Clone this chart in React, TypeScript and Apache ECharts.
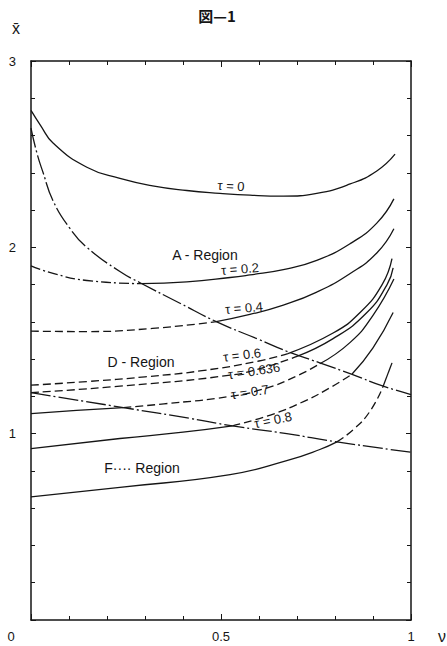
import React, { useEffect, useRef } from 'react';
import * as echarts from 'echarts';

// ν (x) , x̄ (y) readings
const tau0 = [[0, 2.735], [0.025, 2.655], [0.058, 2.56], [0.147, 2.43], [0.234, 2.37], [0.32, 2.33], [0.41, 2.305], [0.497, 2.29], [0.576, 2.28], [0.664, 2.275], [0.752, 2.29], [0.84, 2.34], [0.91, 2.41], [0.958, 2.50]];
const tau02 = [[0, 1.90], [0.058, 1.86], [0.147, 1.822], [0.29, 1.805], [0.41, 1.815], [0.524, 1.838], [0.576, 1.852], [0.664, 1.88], [0.752, 1.93], [0.84, 2.02], [0.91, 2.13], [0.955, 2.26]];
const tau04 = [[0, 1.55], [0.147, 1.548], [0.32, 1.565], [0.484, 1.60], [0.576, 1.64], [0.664, 1.69], [0.752, 1.76], [0.84, 1.86], [0.91, 1.97], [0.955, 2.10]];
const tau06 = [[0, 1.26], [0.15, 1.28], [0.3, 1.305], [0.45, 1.338], [0.6, 1.39], [0.676, 1.43], [0.795, 1.54], [0.866, 1.65], [0.924, 1.80], [0.95, 1.94]];
const tau0636 = [[0, 1.22], [0.234, 1.255], [0.524, 1.314], [0.62, 1.36], [0.70, 1.415], [0.795, 1.51], [0.884, 1.65], [0.937, 1.80], [0.953, 1.89]];
const tau07 = [[0, 1.108], [0.12, 1.125], [0.243, 1.14], [0.35, 1.16], [0.524, 1.20], [0.62, 1.245], [0.70, 1.31], [0.76, 1.375], [0.84, 1.49], [0.9, 1.635], [0.955, 1.83]];
const tau08 = [[0, 0.92], [0.234, 0.974], [0.40, 1.008], [0.53, 1.042], [0.63, 1.10], [0.72, 1.175], [0.79, 1.25], [0.845, 1.32], [0.9, 1.46], [0.953, 1.65]];
const tauLow = [[0, 0.661], [0.234, 0.712], [0.524, 0.78], [0.673, 0.855], [0.76, 0.915], [0.805, 0.956], [0.85, 1.025], [0.892, 1.12], [0.926, 1.25], [0.95, 1.38]];
const boundaryAD = [[0, 2.64], [0.015, 2.51], [0.032, 2.40], [0.058, 2.25], [0.103, 2.10], [0.147, 2.00], [0.234, 1.87], [0.287, 1.81], [0.392, 1.70], [0.489, 1.60], [0.60, 1.505], [0.676, 1.44], [0.76, 1.38], [0.845, 1.318], [0.927, 1.255], [1.0, 1.21]];
const boundaryDF = [[0, 1.22], [0.243, 1.14], [0.418, 1.082], [0.53, 1.042], [0.673, 1.0], [0.805, 0.956], [1.0, 0.90]];

// ν values where the line style of a curve changes (region crossings)
const breaks02 = [0.29];
const breaks04 = [0.484];
const breaks06 = [0.676];
const breaks0636 = [0.70];
const breaks07 = [0.243, 0.76];
const breaks08 = [0.53, 0.845];
const breaksLow = [0.805, 0.926];

const xLabelValues = [0.5, 1];
const yLabelValues = [1, 2, 3];

const INK = '#151515';
const FONT = '"Liberation Sans", Arial, sans-serif';
const DASH = [8, 4];
const DASHDOT = [20, 3, 2, 3];
const DASHDOT_SHORT = [10, 3, 2, 3];

function split(points: number[][], brk: number[]) {
  const segs: number[][][] = [];
  let cur: number[][] = [];
  for (const p of points) {
    cur.push(p);
    if (brk.includes(p[0])) {
      segs.push(cur);
      cur = [p];
    }
  }
  segs.push(cur);
  return segs;
}

function curve(name: string, points: number[][], brk: number[], styles: any[]) {
  return split(points, brk).map((seg, i) => ({
    name,
    type: 'line',
    data: seg,
    showSymbol: false,
    smooth: 0.5,
    silent: true,
    lineStyle: { color: INK, width: 1.3, type: styles[i] },
    z: 3,
  }));
}

function label(text: string, x: number, y: number, rot: number, size = 13) {
  return {
    type: 'text',
    x,
    y,
    rotation: rot,
    style: {
      text,
      fill: INK,
      font: `${size}px ${FONT}`,
      fontSize: size,
      fontFamily: FONT,
      align: 'center',
      textAlign: 'center',
      verticalAlign: 'middle',
      textVerticalAlign: 'middle',
    },
  };
}

const App = () => {
  const ref = useRef<HTMLDivElement>(null);
  useEffect(() => {
    const chart = echarts.init(ref.current!, null, { renderer: 'svg' });
    const xCommon = {
      type: 'value',
      min: 0,
      max: 1,
      interval: 0.5,
      axisLine: { show: true, onZero: false, lineStyle: { color: INK, width: 1.5 } },
      axisTick: { show: true, inside: true, length: 6, lineStyle: { color: INK, width: 1 } },
      minorTick: { show: true, splitNumber: 5, length: 4, lineStyle: { color: INK, width: 1 } },
      splitLine: { show: false },
      minorSplitLine: { show: false },
    };
    const yCommon = {
      type: 'value',
      min: 0,
      max: 3,
      interval: 1,
      axisLine: { show: true, onZero: false, lineStyle: { color: INK, width: 1.5 } },
      axisTick: { show: true, inside: true, length: 5, lineStyle: { color: INK, width: 1 } },
      minorTick: { show: true, splitNumber: 5, length: 4, lineStyle: { color: INK, width: 1 } },
      splitLine: { show: false },
      minorSplitLine: { show: false },
    };
    const option: any = {
      animation: false,
      backgroundColor: '#ffffff',
      grid: { left: 31, right: 36, top: 61, bottom: 26, containLabel: false },
      xAxis: [
        {
          ...xCommon,
          position: 'bottom',
          axisLabel: {
            show: true,
            margin: 10,
            color: INK,
            fontSize: 13,
            fontFamily: FONT,
            formatter: (v: number) => (xLabelValues.includes(v) ? String(v) : ''),
          },
        },
        { ...xCommon, position: 'top', axisLabel: { show: false } },
      ],
      yAxis: [
        {
          ...yCommon,
          position: 'left',
          axisLabel: {
            show: true,
            margin: 15,
            color: INK,
            fontSize: 13,
            fontFamily: FONT,
            formatter: (v: number) => (yLabelValues.includes(v) ? String(v) : ''),
          },
        },
        { ...yCommon, position: 'right', axisLabel: { show: false } },
      ],
      series: [
        ...curve('τ = 0', tau0, [], ['solid']),
        ...curve('τ = 0.2', tau02, breaks02, [DASHDOT_SHORT, 'solid']),
        ...curve('τ = 0.4', tau04, breaks04, [DASH, 'solid']),
        ...curve('τ = 0.6', tau06, breaks06, [DASH, 'solid']),
        ...curve('τ = 0.636', tau0636, breaks0636, [DASH, 'solid']),
        ...curve('τ = 0.7', tau07, breaks07, ['solid', DASH, 'solid']),
        ...curve('τ = 0.8', tau08, breaks08, ['solid', DASH, 'solid']),
        ...curve('F curve', tauLow, breaksLow, ['solid', DASH, 'solid']),
        ...curve('A/D boundary', boundaryAD, [], [DASHDOT]),
        ...curve('D/F boundary', boundaryDF, [], [DASHDOT]),
      ],
      graphic: [
        {
          type: 'text',
          x: 217,
          y: 15,
          style: {
            text: '図—1',
            fill: INK,
            font: `bold 15px "Noto Sans CJK JP", sans-serif`,
            fontSize: 15,
            fontWeight: 'bold',
            fontFamily: '"Noto Sans CJK JP", sans-serif',
            align: 'center',
            textAlign: 'center',
            verticalAlign: 'middle',
            textVerticalAlign: 'middle',
          },
        },
        label('x̄', 16, 28, 0, 16),
        label('ν', 442, 636, 0, 16),
        label('0', 11, 636, 0, 13),
        label('τ = 0', 231, 186, -0.06, 13),
        label('A - Region', 205, 255, 0, 14),
        label('τ = 0.2', 240, 269, 0.08, 13),
        label('τ = 0.4', 244, 308, 0.08, 13),
        label('D - Region', 141, 362, 0, 14),
        label('τ = 0.6', 242, 355, 0.12, 13),
        label('τ = 0.636', 254, 371, 0.15, 13),
        label('τ = 0.7', 250, 392, 0.15, 13),
        label('τ = 0.8', 273, 420, 0.2, 13),
        label('F···· Region', 142, 468, 0, 14),
      ],
    };
    chart.setOption(option);
    return () => chart.dispose();
  }, []);
  return (
    <div
      ref={ref}
      style={{ position: 'fixed', left: 0, top: 0, width: 447, height: 646, background: '#fff' }}
    />
  );
};

export default App;
